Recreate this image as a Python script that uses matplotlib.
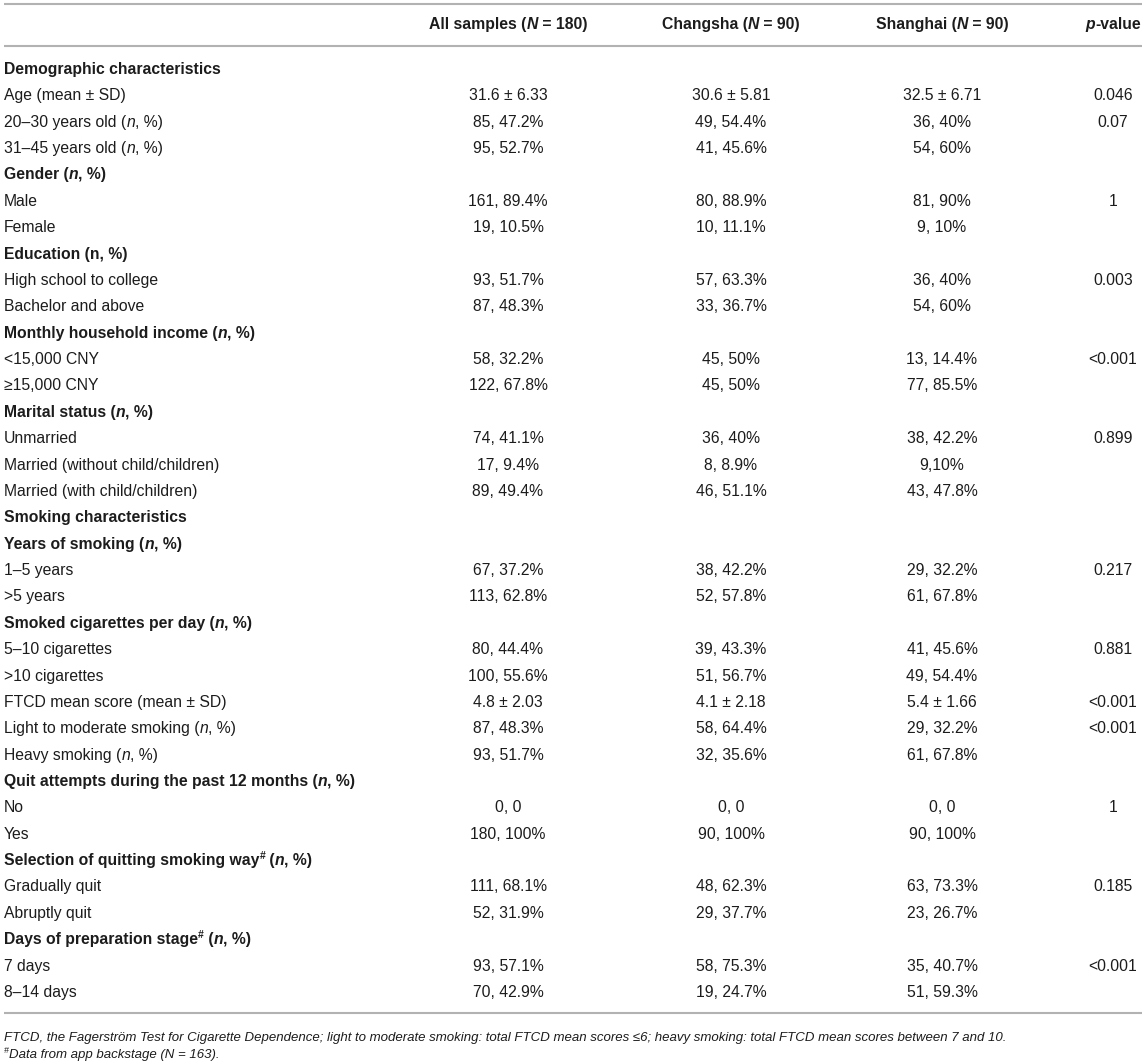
import matplotlib
matplotlib.use("Agg")
import matplotlib.pyplot as plt
import re

# ---------------- data ----------------
col_headers = ["All samples (*N* = 180)", "Changsha (*N* = 90)",
               "Shanghai (*N* = 90)", "*p*-value"]

row_labels = [
    "Demographic characteristics",
    "Age (mean ± SD)",
    "20–30 years old (*n*, %)",
    "31–45 years old (*n*, %)",
    "Gender (*n*, %)",
    "Male",
    "Female",
    "Education (n, %)",
    "High school to college",
    "Bachelor and above",
    "Monthly household income (*n*, %)",
    "<15,000 CNY",
    "≥15,000 CNY",
    "Marital status (*n*, %)",
    "Unmarried",
    "Married (without child/children)",
    "Married (with child/children)",
    "Smoking characteristics",
    "Years of smoking (*n*, %)",
    "1–5 years",
    ">5 years",
    "Smoked cigarettes per day (*n*, %)",
    "5–10 cigarettes",
    ">10 cigarettes",
    "FTCD mean score (mean ± SD)",
    "Light to moderate smoking (*n*, %)",
    "Heavy smoking (*n*, %)",
    "Quit attempts during the past 12 months (*n*, %)",
    "No",
    "Yes",
    "Selection of quitting smoking way^#^ (*n*, %)",
    "Gradually quit",
    "Abruptly quit",
    "Days of preparation stage^#^ (*n*, %)",
    "7 days",
    "8–14 days",
]

bold_rows = [0, 4, 7, 10, 13, 17, 18, 21, 27, 30, 33]

all_samples = ["", "31.6 ± 6.33", "85, 47.2%", "95, 52.7%", "", "161, 89.4%", "19, 10.5%",
               "", "93, 51.7%", "87, 48.3%", "", "58, 32.2%", "122, 67.8%", "",
               "74, 41.1%", "17, 9.4%", "89, 49.4%", "", "", "67, 37.2%", "113, 62.8%",
               "", "80, 44.4%", "100, 55.6%", "4.8 ± 2.03", "87, 48.3%", "93, 51.7%",
               "", "0, 0", "180, 100%", "", "111, 68.1%", "52, 31.9%", "", "93, 57.1%",
               "70, 42.9%"]
changsha = ["", "30.6 ± 5.81", "49, 54.4%", "41, 45.6%", "", "80, 88.9%", "10, 11.1%",
            "", "57, 63.3%", "33, 36.7%", "", "45, 50%", "45, 50%", "",
            "36, 40%", "8, 8.9%", "46, 51.1%", "", "", "38, 42.2%", "52, 57.8%",
            "", "39, 43.3%", "51, 56.7%", "4.1 ± 2.18", "58, 64.4%", "32, 35.6%",
            "", "0, 0", "90, 100%", "", "48, 62.3%", "29, 37.7%", "", "58, 75.3%",
            "19, 24.7%"]
shanghai = ["", "32.5 ± 6.71", "36, 40%", "54, 60%", "", "81, 90%", "9, 10%",
            "", "36, 40%", "54, 60%", "", "13, 14.4%", "77, 85.5%", "",
            "38, 42.2%", "9,10%", "43, 47.8%", "", "", "29, 32.2%", "61, 67.8%",
            "", "41, 45.6%", "49, 54.4%", "5.4 ± 1.66", "29, 32.2%", "61, 67.8%",
            "", "0, 0", "90, 100%", "", "63, 73.3%", "23, 26.7%", "", "35, 40.7%",
            "51, 59.3%"]
p_values = ["", "0.046", "0.07", "", "", "1", "", "", "0.003", "", "", "<0.001", "",
            "", "0.899", "", "", "", "", "0.217", "", "", "0.881", "", "<0.001",
            "<0.001", "", "", "1", "", "", "0.185", "", "", "<0.001", ""]

footnotes = [
    "FTCD, the Fagerström Test for Cigarette Dependence; light to moderate smoking: "
    "total FTCD mean scores ≤6; heavy smoking: total FTCD mean scores between 7 and 10.",
    "^#^Data from app backstage (N = 163).",
]

# ---------------- layout ----------------
W, H = 1146, 1062
FONT = "Liberation Sans"
FS = 11.3
FS_FOOT = 9.5
TXT = "#1c1c1c"
LINE = "#b2b2b2"

fig = plt.figure(figsize=(W / 100, H / 100), dpi=100)
ax = fig.add_axes([0, 0, 1, 1])
ax.set_xlim(0, W)
ax.set_ylim(H, 0)
ax.axis("off")
renderer = fig.canvas.get_renderer()


def parse(s, base_style="normal"):
    """Split markup: *..* italic, ^..^ superscript."""
    segs = []
    for tok in re.split(r"(\*[^*]+\*|\^[^^]+\^)", s):
        if not tok:
            continue
        if tok.startswith("*"):
            segs.append((tok[1:-1], "italic", False))
        elif tok.startswith("^"):
            segs.append((tok[1:-1], base_style, True))
        else:
            segs.append((tok, base_style, False))
    return segs


def seg_width(txt, style, weight, size):
    t1 = ax.text(0, 0, "|" + txt + "|", fontsize=size, family=FONT, style=style,
                 weight=weight)
    t2 = ax.text(0, 0, "||", fontsize=size, family=FONT, style=style, weight=weight)
    w = t1.get_window_extent(renderer).width - t2.get_window_extent(renderer).width
    t1.remove()
    t2.remove()
    return w


def draw_rich(s, x, y, ha="left", weight="normal", size=FS, base_style="normal"):
    segs = parse(s, base_style)
    widths = []
    for txt, style, sup in segs:
        sz = size * 0.66 if sup else size
        widths.append(seg_width(txt, style, weight, sz))
    total = sum(widths)
    if ha == "center":
        x0 = x - total / 2
    elif ha == "right":
        x0 = x - total
    else:
        x0 = x
    for (txt, style, sup), w in zip(segs, widths):
        sz = size * 0.66 if sup else size
        yy = y - size * 0.55 if sup else y
        ax.text(x0, yy, txt, fontsize=sz, family=FONT, style=style, weight=weight,
                color=TXT, ha="left", va="baseline")
        x0 += w


col_x = [508, 731, 942, 1113]
label_x = 4
header_base = 29
row_base0 = 74
row_step = 26.37

# rules
for yl in (4, 45.5, 1012.5):
    ax.plot([4, 1142], [yl, yl], color=LINE, lw=1.5, solid_capstyle="butt")

# header
for hx, htxt in zip(col_x, col_headers):
    draw_rich(htxt, hx, header_base, ha="center", weight="bold")

# body
columns = [all_samples, changsha, shanghai, p_values]
for i, lab in enumerate(row_labels):
    yb = row_base0 + i * row_step
    wt = "bold" if i in bold_rows else "normal"
    draw_rich(lab, label_x, yb, ha="left", weight=wt)
    for cx, col in zip(col_x, columns):
        if col[i]:
            ax.text(cx, yb, col[i], fontsize=FS, family=FONT, color=TXT,
                    ha="center", va="baseline")

# footnotes
foot_base = [1041, 1058]
for fb, ft in zip(foot_base, footnotes):
    draw_rich(ft, label_x, fb, ha="left", size=FS_FOOT, base_style="italic")

fig.savefig("out.png", dpi=100)
